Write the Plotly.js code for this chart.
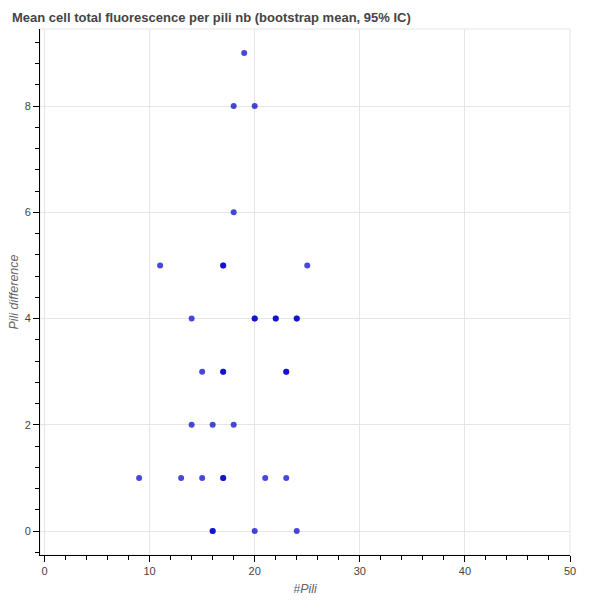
<!DOCTYPE html>
<html>
<head>
<meta charset="utf-8">
<script src="https://cdn.plot.ly/plotly-3.0.1.min.js"></script>
<style>
  html, body { margin: 0; padding: 0; background: #fff; }
  #chart { width: 600px; height: 600px; }
</style>
</head>
<body>
<div id="chart"></div>
<script>
// numero de pili por celula y la diferencia observada (puntos repetidos = mas oscuros)
const pili = [19, 18, 20, 18, 11, 17, 17, 25, 14, 20, 20, 22, 22, 24, 24,
              15, 17, 17, 23, 23, 14, 16, 18, 9, 13, 15, 17, 17, 21, 23,
              16, 16, 20, 24];
const piliDiff = [9, 8, 8, 6, 5, 5, 5, 5, 4, 4, 4, 4, 4, 4, 4,
                  3, 3, 3, 3, 3, 2, 2, 2, 1, 1, 1, 1, 1, 1, 1,
                  0, 0, 0, 0];

const titulo = 'Mean cell total fluorescence per pili nb (bootstrap mean, 95% IC)';
const fuente = 'Liberation Sans, Arial, Helvetica, sans-serif';

let traza = {
  x: pili,
  y: piliDiff,
  type: 'scatter',
  mode: 'markers',
  marker: { size: 6, color: '#0000cd', opacity: 0.72 },
  hoverinfo: 'x+y'
};

let ejeComun = {
  showline: true,
  linecolor: '#000',
  linewidth: 1,
  ticks: 'outside',
  ticklen: 6,
  tickcolor: '#000',
  gridcolor: '#e5e5e5',
  zeroline: false,
  tickfont: { size: 11, color: '#444' }
};

let layout = {
  width: 600,
  height: 600,
  margin: { l: 40, r: 30, t: 29, b: 45 },
  paper_bgcolor: '#fff',
  plot_bgcolor: '#fff',
  font: { family: fuente, color: '#444' },
  showlegend: false,
  title: {
    text: titulo,
    font: { size: 13, weight: 'bold', color: '#444', family: fuente },
    xref: 'container', x: 12 / 600, xanchor: 'left',
    yref: 'container', y: 1 - 17 / 600, yanchor: 'middle'
  },
  xaxis: Object.assign({}, ejeComun, {
    range: [-0.43, 50],
    tick0: 0, dtick: 10,
    minor: { dtick: 2, ticks: 'outside', ticklen: 4, tickcolor: '#000', showgrid: false },
    title: { text: '#Pili', font: { size: 12.5, style: 'italic', color: '#666' }, standoff: 8 }
  }),
  yaxis: Object.assign({}, ejeComun, {
    range: [-0.45, 9.45],
    tick0: 0, dtick: 2,
    minor: { dtick: 0.4, ticks: 'outside', ticklen: 4, tickcolor: '#000', showgrid: false },
    title: { text: 'Pili difference', font: { size: 12.5, style: 'italic', color: '#666' }, standoff: 3 }
  }),
  shapes: [{
    type: 'rect', xref: 'paper', yref: 'paper', x0: 0, x1: 1, y0: 0, y1: 1,
    line: { color: '#e5e5e5', width: 1 }, layer: 'below'
  }]
};

Plotly.newPlot('chart', [traza], layout, { displayModeBar: false, staticPlot: true });
</script>
</body>
</html>
